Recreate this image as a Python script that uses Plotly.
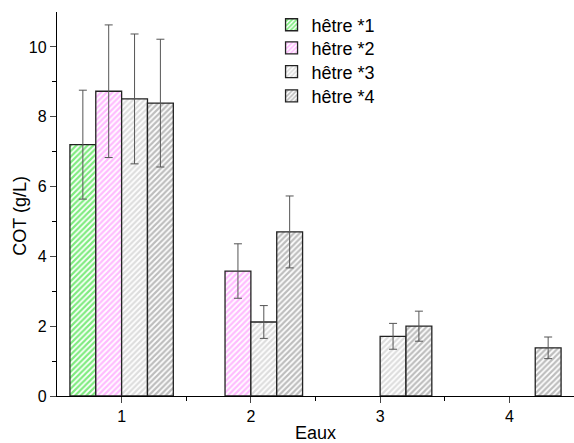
import plotly.graph_objects as go

categories = [1, 2, 3, 4]
series_names = ["hêtre *1", "hêtre *2", "hêtre *3", "hêtre *4"]
h1 = [7.2, None, None, None]
h1_err = [1.56, None, None, None]
h2 = [8.73, 3.58, None, None]
h2_err = [1.9, 0.78, None, None]
h3 = [8.51, 2.12, 1.71, None]
h3_err = [1.86, 0.47, 0.37, None]
h4 = [8.39, 4.70, 2.0, 1.38]
h4_err = [1.83, 1.03, 0.43, 0.31]

values = [h1, h2, h3, h4]
errors = [h1_err, h2_err, h3_err, h4_err]
colors = ["#00d800", "#ff78ff", "#bcbcbc", "#7c7c7c"]
legend_ids = ["legend", "legend2", "legend3", "legend4"]
legend_y = [0.966, 0.906, 0.844, 0.781]

fig = go.Figure()
for name, v, e, c, lid in zip(series_names, values, errors, colors, legend_ids):
    fig.add_trace(go.Bar(
        x=categories, y=v, name=name, legend=lid,
        marker=dict(color="white", line=dict(color="#222222", width=1.3),
                    pattern=dict(shape="/", fgcolor=c, bgcolor="white", size=4, solidity=0.55)),
        error_y=dict(type="data", array=e, visible=True, color="#555555", thickness=1, width=4),
    ))

legend_layout = {}
for lid, ly in zip(legend_ids, legend_y):
    legend_layout[lid] = dict(x=0.415, y=ly, xanchor="left", yanchor="middle",
                              font=dict(size=18), bgcolor="rgba(0,0,0,0)", itemwidth=30)

fig.update_layout(
    width=574, height=443,
    margin=dict(l=57, r=0, t=12, b=47, autoexpand=False),
    barmode="group", bargap=0.2, bargroupgap=0,
    plot_bgcolor="white", paper_bgcolor="white",
    font=dict(family="Liberation Sans, Arial, sans-serif", color="black"),
    showlegend=True,
    annotations=[dict(text="COT (g/L)", textangle=-90, xref="paper", yref="paper",
                      x=-0.073, y=0.47, xanchor="center", yanchor="middle",
                      showarrow=False, font=dict(size=18))],
    **legend_layout,
)
fig.update_xaxes(
    range=[0.5, 4.5], tickvals=categories, ticks="outside", ticklen=6, tickwidth=1.3,
    showline=True, linecolor="black", linewidth=1.3, showgrid=False, zeroline=False,
    tickfont=dict(size=16), automargin=False,
    minor=dict(tickvals=[1.5, 2.5, 3.5], ticks="outside", ticklen=4, tickwidth=1.3, tickcolor="black"),
    title=dict(text="Eaux", font=dict(size=18), standoff=2),
)
fig.update_yaxes(
    range=[0, 11], tickvals=[0, 2, 4, 6, 8, 10], ticks="outside", ticklen=6, tickwidth=1.3,
    showline=True, linecolor="black", linewidth=1.3, showgrid=False, zeroline=False,
    tickfont=dict(size=16), automargin=False,
    minor=dict(tickvals=[1, 3, 5, 7, 9], ticks="outside", ticklen=4, tickwidth=1.3, tickcolor="black"),
)
fig.write_html("out.html", config={"displayModeBar": False},
               post_script="document.body.style.margin='0px';")
